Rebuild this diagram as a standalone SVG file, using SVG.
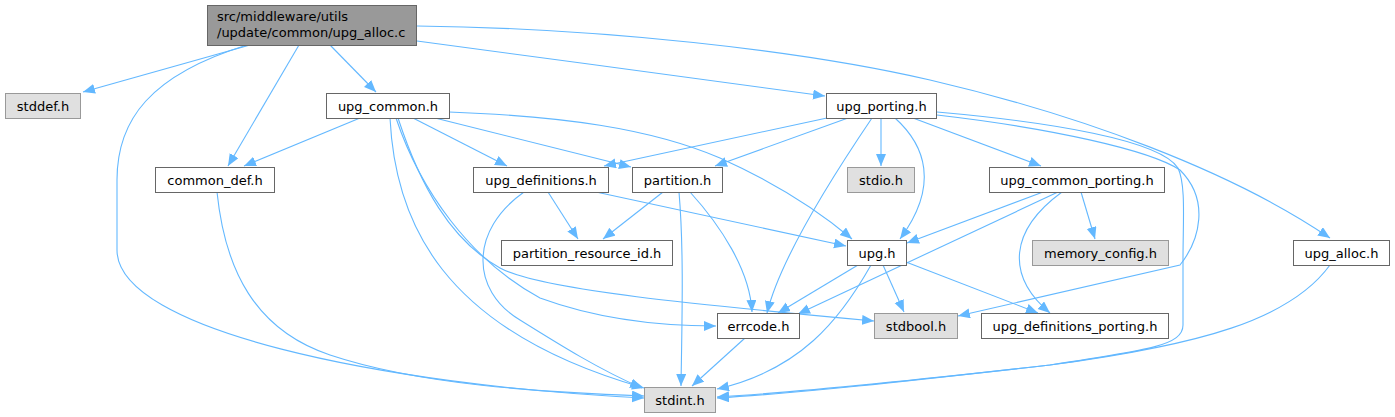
<svg xmlns="http://www.w3.org/2000/svg" width="1395" height="417" viewBox="0 0 1395 417">
<style>
.n rect{fill:#ffffff;stroke:#666666;stroke-width:1}
.g rect{fill:#e0e0e0;stroke:#999999;stroke-width:1}
.r rect{fill:#999999;stroke:#666666;stroke-width:1}
text{font-family:"DejaVu Sans","Liberation Sans",sans-serif;font-size:13px;fill:#000000}
.c{text-anchor:middle}
#edges path{fill:none;stroke:#63b8ff;stroke-width:1.1;marker-end:url(#ah)}
</style>
<defs>
<marker id="ah" markerUnits="userSpaceOnUse" markerWidth="13" markerHeight="11" refX="12" refY="5" orient="auto">
<path d="M0,0 L12,5 L0,10 z" fill="#63b8ff"/>
</marker>
</defs>
<rect width="1395" height="417" fill="#ffffff"/>
<g id="edges">
<path d="M250,45 L83,92"/>
<path d="M247,45 C150,75 117,120 117,180 L117,250 C117,330 380,385 644,398"/>
<path d="M299,45 L228,166"/>
<path d="M330,45 L376,92"/>
<path d="M417,41 C550,58 700,80 825,96"/>
<path d="M417,26 C600,28 800,50 930,80 C1080,115 1230,170 1330,238"/>
<path d="M360,118 L244,166"/>
<path d="M413,118 L507,166"/>
<path d="M435,118 L631,167"/>
<path d="M449,112 C560,116 650,128 720,158 C780,185 820,212 852,239"/>
<path d="M390,118 C395,220 440,330 644,388"/>
<path d="M396,118 C420,190 470,260 540,298 C600,320 660,326 716,326"/>
<path d="M398,118 C420,185 450,240 500,268 C540,290 700,305 874,321"/>
<path d="M827,118 L604,166"/>
<path d="M848,118 L715,166"/>
<path d="M881,118 L881,166"/>
<path d="M895,118 C925,145 940,185 900,239"/>
<path d="M872,118 C830,180 780,260 767,313"/>
<path d="M913,118 L1041,166"/>
<path d="M937,112 C1050,122 1160,140 1178,168 C1186,185 1183,220 1183,260 L1183,325 C1183,345 1150,350 1050,365 C900,382 800,392 717,397"/>
<path d="M937,115 C1050,128 1150,150 1180,170 C1210,200 1200,240 1180,265 L958,316"/>
<path d="M1043,192 L907,243"/>
<path d="M1058,192 L798,314"/>
<path d="M1062,192 C1010,230 1005,275 1050,313"/>
<path d="M1081,192 L1095,239"/>
<path d="M548,192 L578,239"/>
<path d="M596,192 L846,246"/>
<path d="M524,192 C470,230 470,290 520,320 C560,345 600,370 642,388"/>
<path d="M663,192 L603,239"/>
<path d="M679,192 C684,250 682,320 681,386"/>
<path d="M690,192 C720,225 750,270 752,312"/>
<path d="M858,265 L778,313"/>
<path d="M883,265 L904,312"/>
<path d="M906,262 L1038,313"/>
<path d="M871,265 C840,320 800,370 717,389"/>
<path d="M745,338 L692,386"/>
<path d="M217,192 C225,270 255,330 330,355 C420,385 540,392 644,396"/>
<path d="M1330,265 C1290,320 1200,345 1050,365 C900,382 800,393 717,398"/>
</g>
<g id="n_root" class="r"><rect x="207.5" y="5.5" width="209" height="40"/><text x="217" y="21">src/middleware/utils</text><text x="217" y="37">/update/common/upg_alloc.c</text></g>
<g id="n_stddef" class="g"><rect x="5.5" y="93.5" width="75" height="25"/><text class="c" x="43" y="110.5">stddef.h</text></g>
<g id="n_upg_common" class="n"><rect x="326.5" y="93.5" width="123" height="25"/><text class="c" x="388" y="110.5">upg_common.h</text></g>
<g id="n_upg_porting" class="n"><rect x="826.5" y="93.5" width="110" height="25"/><text class="c" x="881.5" y="110.5">upg_porting.h</text></g>
<g id="n_common_def" class="n"><rect x="155.5" y="167.5" width="119" height="25"/><text class="c" x="215" y="184.5">common_def.h</text></g>
<g id="n_upg_definitions" class="n"><rect x="473.5" y="167.5" width="135" height="25"/><text class="c" x="541" y="184.5">upg_definitions.h</text></g>
<g id="n_partition" class="n"><rect x="632.5" y="167.5" width="90" height="25"/><text class="c" x="677.5" y="184.5">partition.h</text></g>
<g id="n_stdio" class="g"><rect x="847.5" y="167.5" width="67" height="25"/><text class="c" x="881" y="184.5">stdio.h</text></g>
<g id="n_upg_common_porting" class="n"><rect x="989.5" y="167.5" width="175" height="25"/><text class="c" x="1077" y="184.5">upg_common_porting.h</text></g>
<g id="n_partition_resource_id" class="n"><rect x="501.5" y="240.5" width="171" height="25"/><text class="c" x="587" y="257.5">partition_resource_id.h</text></g>
<g id="n_upg" class="n"><rect x="847.5" y="240.5" width="59" height="25"/><text class="c" x="877" y="257.5">upg.h</text></g>
<g id="n_memory_config" class="g"><rect x="1032.5" y="240.5" width="136" height="25"/><text class="c" x="1100.5" y="257.5">memory_config.h</text></g>
<g id="n_upg_alloc" class="n"><rect x="1293.5" y="240.5" width="96" height="25"/><text class="c" x="1341.5" y="257.5">upg_alloc.h</text></g>
<g id="n_errcode" class="n"><rect x="717.5" y="313.5" width="82" height="25"/><text class="c" x="758.5" y="330.5">errcode.h</text></g>
<g id="n_stdbool" class="g"><rect x="874.5" y="313.5" width="83" height="25"/><text class="c" x="916" y="330.5">stdbool.h</text></g>
<g id="n_upg_definitions_porting" class="n"><rect x="981.5" y="313.5" width="187" height="25"/><text class="c" x="1075" y="330.5">upg_definitions_porting.h</text></g>
<g id="n_stdint" class="g"><rect x="644.5" y="387.5" width="71" height="25"/><text class="c" x="680" y="404.5">stdint.h</text></g>
</svg>
